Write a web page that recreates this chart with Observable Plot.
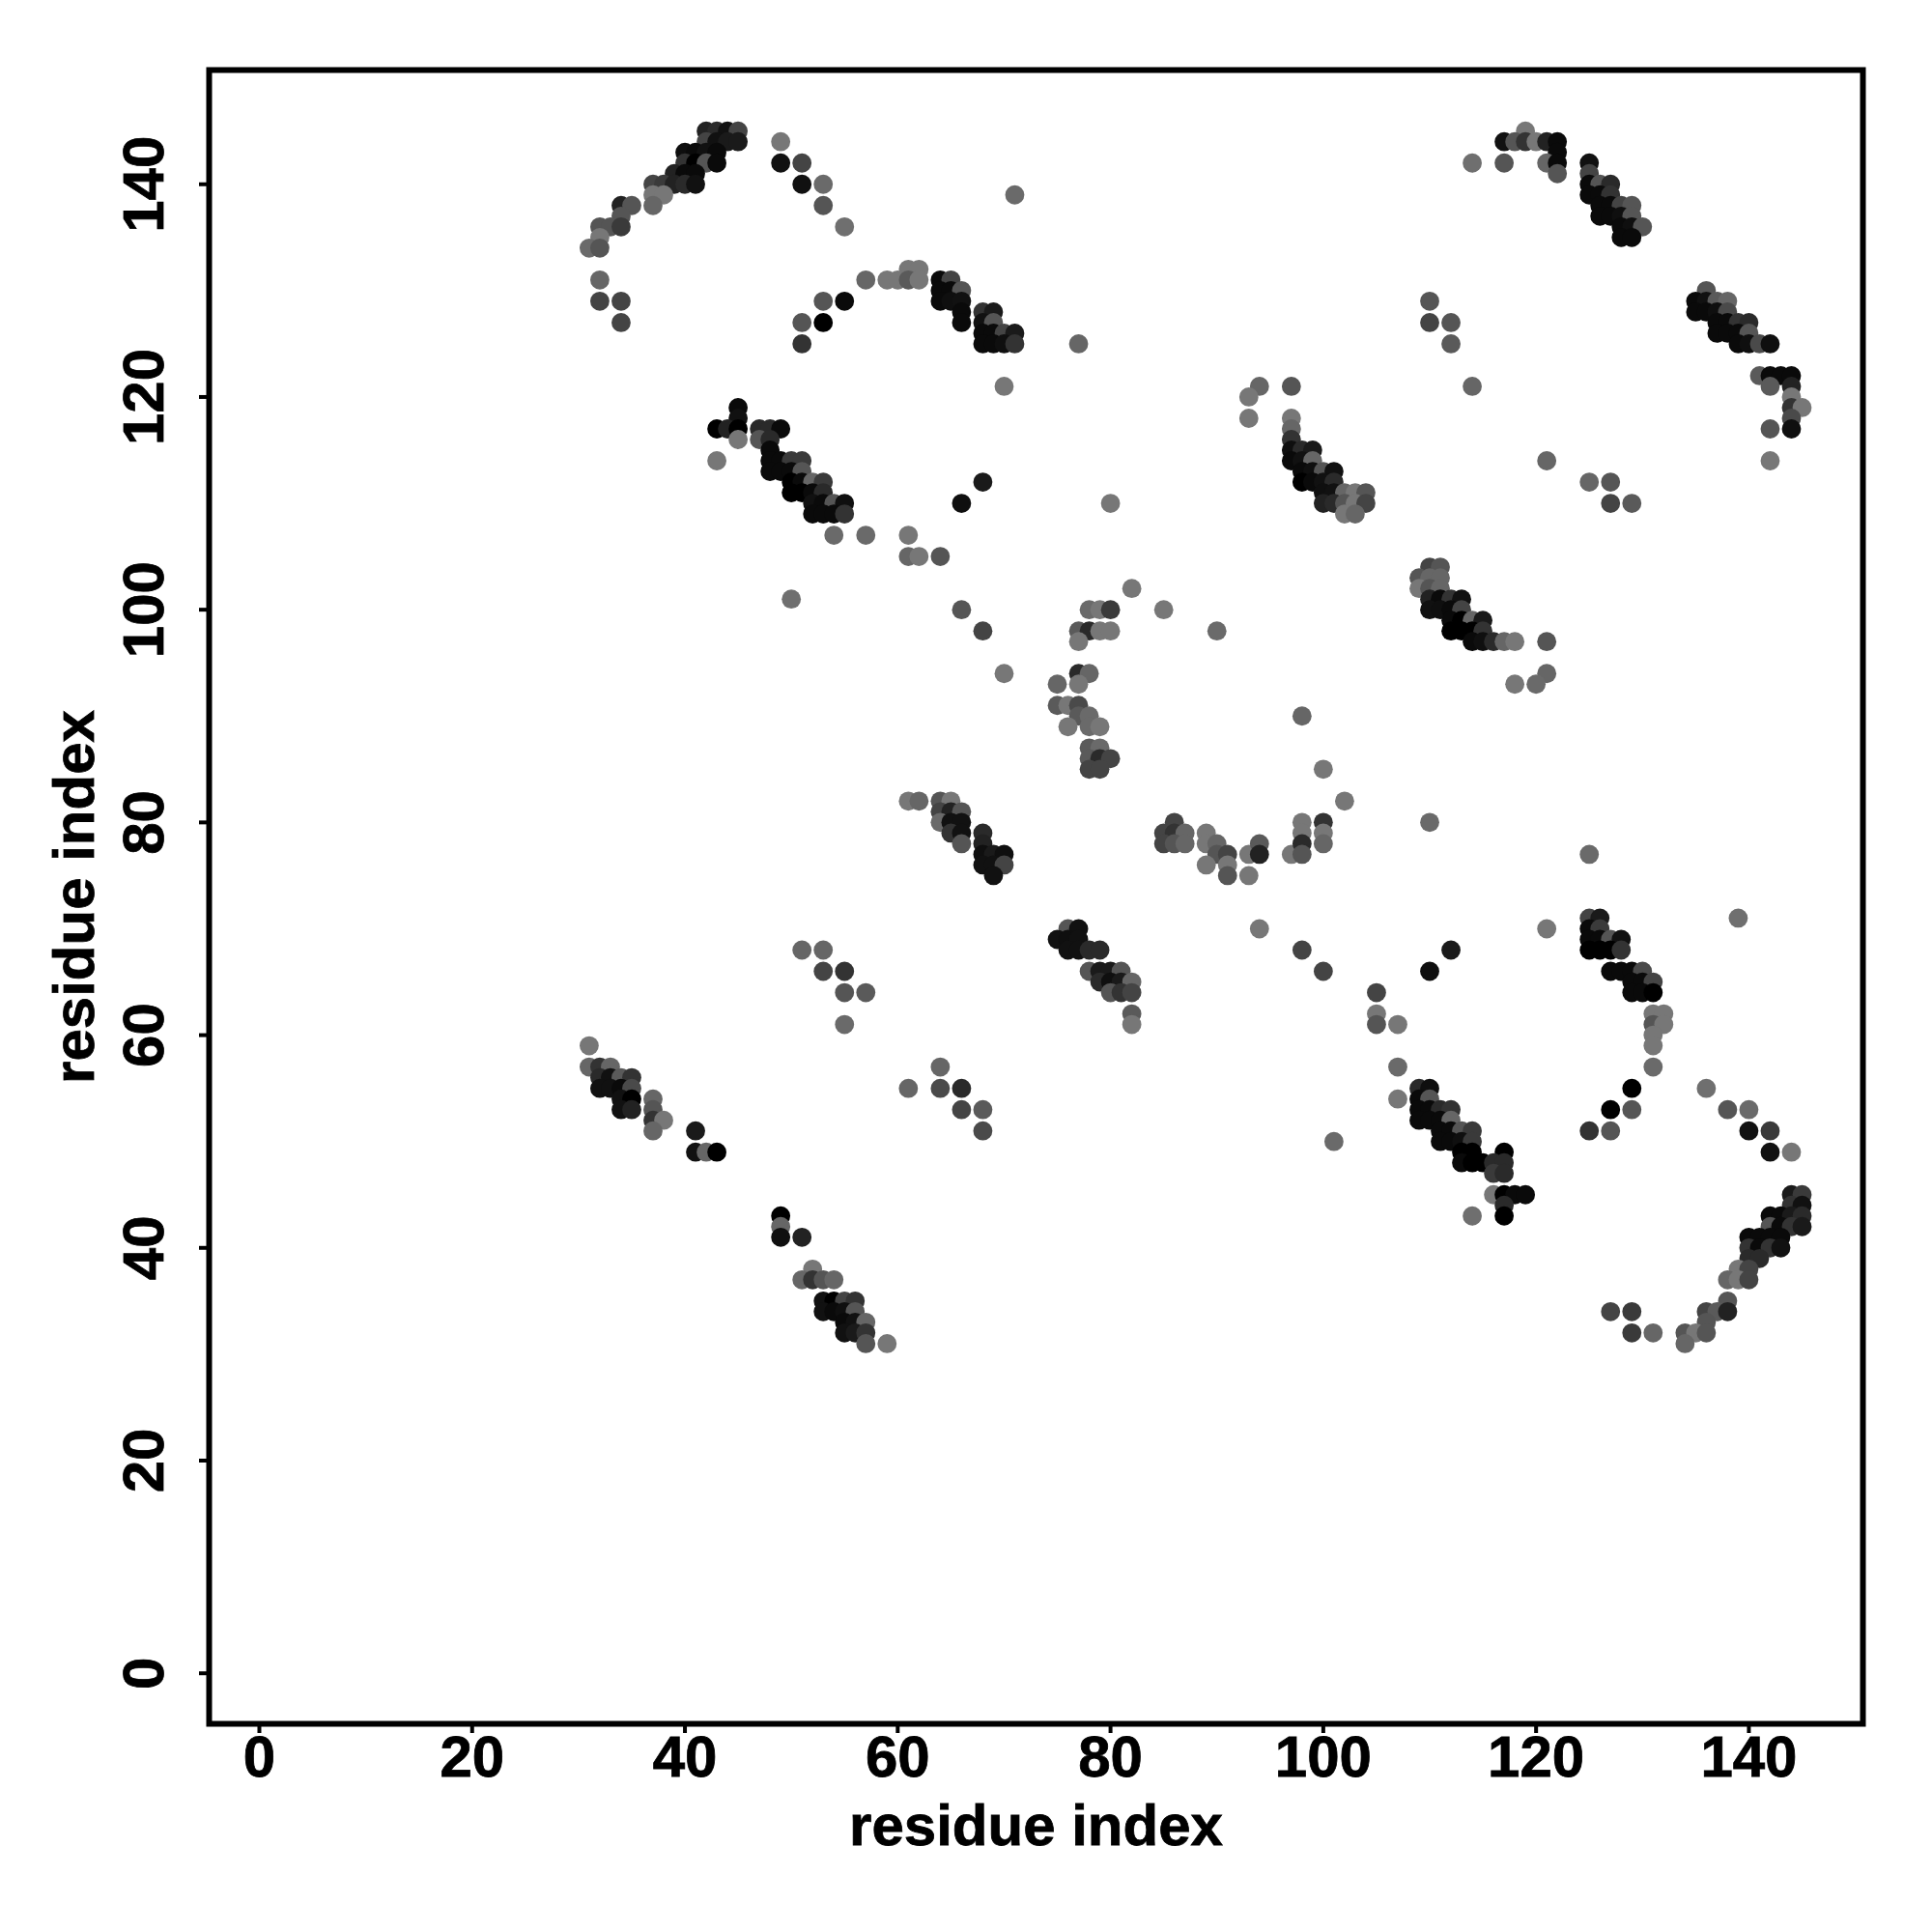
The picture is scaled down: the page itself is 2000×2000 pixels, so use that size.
<!DOCTYPE html>
<html>
<head>
<meta charset="utf-8">
<script src="https://cdn.jsdelivr.net/npm/d3@7"></script>
<script src="https://cdn.jsdelivr.net/npm/@observablehq/plot@0.6"></script>
<style>html,body{margin:0;padding:0;background:#fff} svg text{stroke:#000;stroke-width:0.8px}</style>
</head>
<body>
<div id="chart"></div>
<script>
// each contact: [residue x, residue y, grey level]
const contactsA = [[42,145,0x22],[43,145,0x2a],[44,145,0x11],[45,145,0x44],[42,144,0x44],[43,144,0x11],[44,144,0x1a],[45,144,0x1a],
[40,143,0x0e],[41,143,0x0a],[42,143,0x11],[43,143,0x0a],[40,142,0x33],[41,142,0x00],[42,142,0x55],[43,142,0x0a],
[39,141,0x22],[40,141,0x0a],[41,141,0x0a],[37,140,0x44],[38,140,0x3a],[39,140,0x22],[40,140,0x2a],[41,140,0x11],
[37,139,0x77],[38,139,0x77],[34,138,0x22],[35,138,0x55],[37,138,0x66],[34,137,0x55],[32,136,0x55],[33,136,0x55],[34,136,0x3a],
[32,135,0x77],[31,134,0x6a],[32,134,0x55],[32,131,0x66],[32,129,0x44],[34,129,0x44],[34,127,0x44],
[49,144,0x77],[49,142,0x11],[51,142,0x44],[51,140,0x11],[53,140,0x6a],[53,138,0x55],[55,136,0x6f],[71,139,0x6a]];
const contactsB = [[61,132,0x77],[62,132,0x77],[57,131,0x66],[59,131,0x77],[60,131,0x77],[61,131,0x5a],[62,131,0x77],
[53,129,0x55],[55,129,0x0a],[51,127,0x55],[53,127,0x00],[51,125,0x33],
[64,131,0x0a],[65,131,0x44],[64,130,0x0a],[65,130,0x0a],[66,130,0x55],[64,129,0x0a],[65,129,0x0f],[66,129,0x11],[66,128,0x0a],[66,127,0x0a],
[68,128,0x33],[69,128,0x1a],[68,127,0x11],[69,127,0x55],[68,126,0x0a],[69,126,0x0a],[70,126,0x44],[71,126,0x1a],
[68,125,0x0a],[69,125,0x0a],[70,125,0x0f],[71,125,0x33],[77,125,0x66],[70,121,0x77]];
const contactsC = [[45,119,0x0a],[45,118,0x11],[43,117,0x00],[44,117,0x22],[45,117,0x00],[47,117,0x2a],[48,117,0x2a],[49,117,0x0a],
[45,116,0x77],[47,116,0x55],[48,116,0x2a],[48,115,0x0a],[43,114,0x77],[48,114,0x0a],[49,114,0x0a],[50,114,0x3a],[51,114,0x3a],
[48,113,0x0a],[49,113,0x0a],[50,113,0x0a],[51,113,0x55],[50,112,0x00],[51,112,0x0a],[52,112,0x66],[53,112,0x3a],
[50,111,0x00],[51,111,0x00],[52,111,0x0a],[53,111,0x2a],[52,110,0x11],[53,110,0x0a],[54,110,0x55],[55,110,0x0f],
[52,109,0x0a],[53,109,0x0a],[54,109,0x0a],[55,109,0x33],[54,107,0x6a],[57,107,0x6a],[61,107,0x77],[61,105,0x66],[62,105,0x77],[64,105,0x55],
[68,112,0x1a],[66,110,0x0f],[80,110,0x77],[50,101,0x6f],[66,100,0x55],[68,98,0x44],[70,94,0x77]];
const contactsD = [[82,102,0x77],[78,100,0x6a],[79,100,0x77],[80,100,0x3a],[85,100,0x77],[77,98,0x5a],[78,98,0x2a],[79,98,0x77],[80,98,0x77],[90,98,0x6a],
[77,97,0x77],[77,94,0x2a],[78,94,0x66],[75,93,0x66],[77,93,0x77],[75,91,0x5a],[76,91,0x77],[77,91,0x4a],[77,90,0x5a],[78,90,0x6a],
[76,89,0x77],[78,89,0x6a],[79,89,0x77],[78,87,0x5a],[79,87,0x6a],[78,86,0x5a],[79,86,0x2a],[80,86,0x44],[78,85,0x44],[79,85,0x44]];
const contactsE = [[61,82,0x77],[62,82,0x66],[64,82,0x55],[65,82,0x77],[64,81,0x44],[65,81,0x22],[66,81,0x55],[64,80,0x6a],[65,80,0x11],[66,80,0x11],
[65,79,0x33],[66,79,0x11],[66,78,0x55],[68,79,0x2a],[68,78,0x22],[68,77,0x0f],[69,77,0x1a],[70,77,0x0f],[68,76,0x11],[69,76,0x11],[70,76,0x44],[69,75,0x11]];
const contactsF = [[102,82,0x77],[100,85,0x77],[86,80,0x44],[85,79,0x44],[86,79,0x33],[87,79,0x66],[89,79,0x77],[85,78,0x44],[86,78,0x55],[87,78,0x66],[89,78,0x77],[90,78,0x66],
[90,77,0x55],[91,77,0x44],[89,76,0x77],[91,76,0x77],[91,75,0x55],[93,77,0x77],[93,75,0x77],[94,78,0x5a],[94,77,0x22],[94,70,0x77],
[97,77,0x77],[98,80,0x77],[98,79,0x77],[98,78,0x2a],[98,77,0x55],[100,80,0x33],[100,79,0x77],[100,78,0x66],[98,90,0x66],[110,80,0x6a]];
const contactsG = [[76,70,0x55],[77,70,0x11],[75,69,0x11],[76,69,0x0f],[77,69,0x11],[76,68,0x11],[77,68,0x11],[78,68,0x2a],[79,68,0x2a],
[78,66,0x55],[79,66,0x1a],[80,66,0x1a],[81,66,0x55],[79,65,0x2a],[80,65,0x0f],[81,65,0x1a],[82,65,0x66],[80,64,0x55],[81,64,0x33],[82,64,0x44],[82,62,0x5a],[82,61,0x77],
[98,68,0x44],[100,66,0x44],[105,64,0x44],[105,62,0x77],[105,61,0x55],[107,61,0x77],[107,57,0x6a],[107,54,0x77],[101,50,0x6a]];
const contactsH = [[110,104,0x44],[111,104,0x55],[109,103,0x55],[110,103,0x66],[111,103,0x66],[109,102,0x77],[110,102,0x55],[111,102,0x66],
[110,101,0x22],[111,101,0x0a],[112,101,0x33],[113,101,0x11],[110,100,0x11],[111,100,0x0f],[112,100,0x0a],[113,100,0x44],
[112,99,0x0a],[113,99,0x00],[114,99,0x66],[115,99,0x1a],[112,98,0x00],[113,98,0x00],[114,98,0x00],[115,98,0x33],
[114,97,0x0a],[115,97,0x0f],[116,97,0x2a],[117,97,0x66],[118,97,0x77],[121,97,0x55],[121,94,0x66],[118,93,0x77],[120,93,0x6a]];
const contactsI = [[94,121,0x66],[93,120,0x77],[97,121,0x55],[93,118,0x77],[97,118,0x77],[97,117,0x66],[97,116,0x33],[97,115,0x0f],[98,115,0x2a],[99,115,0x1a],
[97,114,0x0a],[98,114,0x11],[99,114,0x66],[98,113,0x0a],[99,113,0x0f],[100,113,0x55],[101,113,0x11],[98,112,0x00],[99,112,0x0a],[100,112,0x11],[101,112,0x2a],
[100,111,0x0f],[101,111,0x11],[102,111,0x66],[103,111,0x77],[104,111,0x55],[100,110,0x22],[101,110,0x2a],[102,110,0x55],[103,110,0x77],[104,110,0x44],[102,109,0x77],[103,109,0x66]];
const contactsJ = [[114,121,0x66],[110,129,0x55],[110,127,0x44],[112,127,0x55],[112,125,0x5a],[121,114,0x66],[125,112,0x66],[127,112,0x55],[127,110,0x44],[129,110,0x5a],
[119,145,0x77],[117,144,0x11],[118,144,0x55],[119,144,0x33],[120,144,0x77],[121,144,0x22],[122,144,0x0a],[122,143,0x0a],[114,142,0x6f],[117,142,0x55],[121,142,0x66],[122,142,0x0a],[122,141,0x55]];
const contactsK = [[125,142,0x11],[125,141,0x44],[125,140,0x0a],[126,140,0x55],[127,140,0x2a],[125,139,0x0a],[126,139,0x0a],[127,139,0x33],
[126,138,0x0a],[127,138,0x0a],[128,138,0x44],[129,138,0x55],[126,137,0x0a],[127,137,0x0a],[128,137,0x0f],[129,137,0x55],[128,136,0x0a],[129,136,0x0f],[130,136,0x55],[128,135,0x0a],[129,135,0x0a]];
const contactsL = [[136,130,0x55],[135,129,0x0a],[136,129,0x11],[137,129,0x5a],[138,129,0x66],[135,128,0x0a],[136,128,0x0a],[137,128,0x0f],[138,128,0x4a],
[137,127,0x0a],[138,127,0x0a],[139,127,0x33],[140,127,0x2a],[137,126,0x0a],[138,126,0x0a],[139,126,0x0a],[140,126,0x55],[139,125,0x0a],[140,125,0x0f],[141,125,0x4a],[142,125,0x0f],
[141,122,0x5a],[142,122,0x0a],[143,122,0x0a],[144,122,0x0a],[142,121,0x5a],[144,121,0x22],[144,120,0x77],[144,119,0x33],[145,119,0x77],[144,118,0x4a],[142,117,0x55],[144,117,0x0f],[142,114,0x77]];
const contactsM = [[125,77,0x6a],[121,70,0x77],[139,71,0x6f],[112,68,0x1a],[110,66,0x0f],[125,71,0x44],[126,71,0x1a],[125,70,0x0a],[126,70,0x3a],[125,69,0x0a],[126,69,0x0a],[127,69,0x55],[128,69,0x11],
[125,68,0x00],[126,68,0x00],[127,68,0x00],[128,68,0x33],[127,66,0x0a],[128,66,0x0a],[129,66,0x0a],[130,66,0x4a],[129,65,0x0a],[130,65,0x0a],[131,65,0x44],[129,64,0x0a],[130,64,0x0a],[131,64,0x00],
[131,62,0x77],[132,62,0x77],[131,61,0x55],[132,61,0x77],[131,60,0x77],[131,59,0x77],[131,57,0x6a],[129,55,0x00],[127,53,0x00],[129,53,0x55],[125,51,0x33],[127,51,0x55]];
const contactsN = [[109,55,0x2a],[110,55,0x0f],[109,54,0x0a],[110,54,0x55],[109,53,0x0a],[110,53,0x0a],[111,53,0x2a],[112,53,0x33],[109,52,0x0a],[110,52,0x0a],[111,52,0x0a],[112,52,0x66],
[111,51,0x0a],[112,51,0x0a],[113,51,0x55],[114,51,0x3a],[111,50,0x0a],[112,50,0x0a],[113,50,0x0f],[114,50,0x3a],[113,49,0x00],[114,49,0x00],[117,49,0x00],
[113,48,0x0a],[114,48,0x00],[115,48,0x00],[116,48,0x2a],[117,48,0x2a],[116,47,0x3a],[117,47,0x2a],[116,45,0x77],[117,45,0x00],[118,45,0x0a],[119,45,0x0a],[117,44,0x2a],[114,43,0x6f],[117,43,0x00]];
const contactsO = [[136,55,0x6f],[138,53,0x55],[140,53,0x6a],[140,51,0x11],[142,51,0x3a],[142,49,0x11],[144,49,0x77],[144,45,0x1a],[145,45,0x3a],[144,44,0x33],[145,44,0x11],
[142,43,0x0a],[143,43,0x0a],[144,43,0x1a],[145,43,0x2a],[142,42,0x55],[143,42,0x0a],[144,42,0x33],[145,42,0x1a],[140,41,0x0a],[141,41,0x0a],[142,41,0x0a],[143,41,0x0a],
[140,40,0x33],[141,40,0x0a],[142,40,0x33],[143,40,0x11],[140,39,0x2a],[141,39,0x2a],[139,38,0x77],[140,38,0x44],[138,37,0x66],[139,37,0x77],[140,37,0x44],
[138,35,0x55],[136,34,0x44],[137,34,0x5a],[138,34,0x22],[127,34,0x44],[129,34,0x3a],[136,33,0x55],[129,32,0x3a],[131,32,0x66],[134,32,0x55],[135,32,0x77],[136,32,0x55],[134,31,0x66]];
const contactsP = [[31,59,0x77],[31,57,0x66],[32,57,0x33],[33,57,0x66],[32,56,0x2a],[33,56,0x11],[34,56,0x5a],[35,56,0x33],[32,55,0x11],[33,55,0x11],[34,55,0x0a],[35,55,0x4a],
[34,54,0x11],[35,54,0x00],[37,54,0x66],[34,53,0x11],[35,53,0x22],[37,53,0x55],[37,52,0x33],[38,52,0x77],[37,51,0x66],[41,51,0x1a],[41,49,0x11],[42,49,0x66],[43,49,0x00]];
const contactsQ = [[51,68,0x66],[53,68,0x66],[53,66,0x44],[55,66,0x33],[55,64,0x55],[57,64,0x5a],[55,61,0x6a],[64,57,0x66],[61,55,0x66],[64,55,0x4a],[66,55,0x2a],[66,53,0x44],[68,53,0x5a],[68,51,0x4a]];
const contactsR = [[49,43,0x00],[49,42,0x66],[49,41,0x0f],[51,41,0x22],[52,38,0x77],[51,37,0x66],[52,37,0x33],[53,37,0x55],[54,37,0x66],
[53,35,0x11],[54,35,0x00],[55,35,0x44],[56,35,0x33],[53,34,0x11],[54,34,0x0a],[55,34,0x0f],[56,34,0x55],[55,33,0x0a],[56,33,0x11],[57,33,0x66],[55,32,0x11],[56,32,0x1a],[57,32,0x33],[57,31,0x55],[59,31,0x77]];

const tickValues = [0, 20, 40, 60, 80, 100, 120, 140];
const axisName = "residue index";

const contacts = [contactsA, contactsB, contactsC, contactsD, contactsE, contactsF, contactsG, contactsH, contactsI,
  contactsJ, contactsK, contactsL, contactsM, contactsN, contactsO, contactsP, contactsQ, contactsR]
  .flat().map(([x, y, level]) => ({x, y, level}));

const chart = Plot.plot({
  width: 2000,
  height: 2000,
  marginLeft: 216,
  marginRight: 72,
  marginTop: 72,
  marginBottom: 216,
  style: {fontFamily: "'Liberation Sans', Arial, sans-serif", background: "#fff", color: "#000"},
  x: {domain: [-4.72, 150.72]},
  y: {domain: [-4.75, 150.74]},
  color: {type: "linear", domain: [0, 255], range: ["#000", "#fff"]},
  marks: [
    Plot.dot(contacts, {x: "x", y: "y", fill: "level", r: 9.9}),
    Plot.frame({stroke: "#000", strokeWidth: 6}),
    Plot.axisX({
      ticks: tickValues, tickFormat: d => String(d), tickSize: 10, tickPadding: 2,
      strokeWidth: 4, fontSize: 60, fontWeight: "bold", fill: "#000", stroke: "#000",
      label: axisName, labelAnchor: "center", labelArrow: "none", labelOffset: 125
    }),
    Plot.axisY({
      ticks: tickValues, tickFormat: d => String(d), tickSize: 10, tickPadding: 38,
      strokeWidth: 4, tickRotate: -90, fontSize: 60, fontWeight: "bold", fill: "#000", stroke: "#000",
      label: axisName, labelAnchor: "center", labelArrow: "none", labelOffset: 162
    })
  ]
});
document.getElementById("chart").appendChild(chart);
</script>
</body>
</html>
